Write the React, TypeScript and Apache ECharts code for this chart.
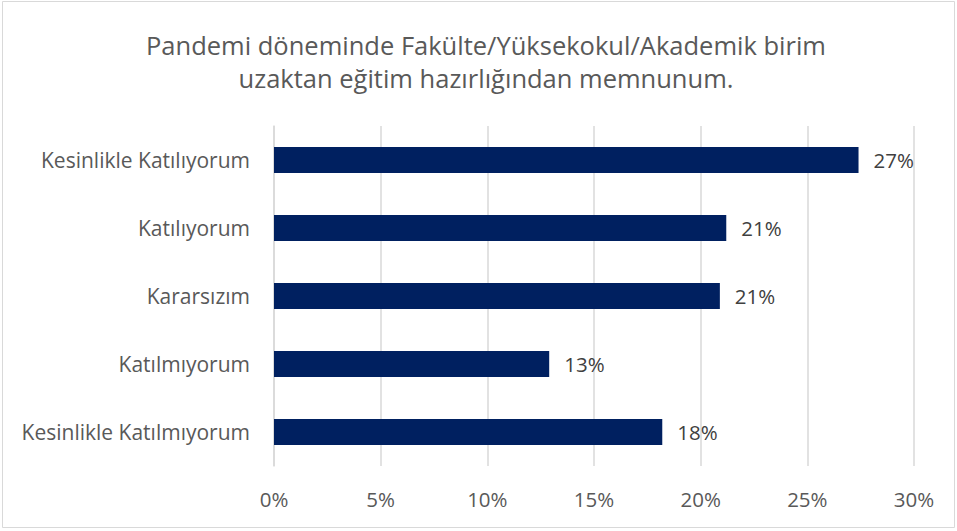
import React, { useEffect, useRef } from "react";
import * as echarts from "echarts";

const titleLines = [
  "Pandemi döneminde Fakülte/Yüksekokul/Akademik birim",
  "uzaktan eğitim hazırlığından memnunum.",
];
const categories = [
  "Kesinlikle Katılıyorum",
  "Katılıyorum",
  "Kararsızım",
  "Katılmıyorum",
  "Kesinlikle Katılmıyorum",
];
const values = [27.4, 21.2, 20.9, 12.9, 18.2];
const axisMin = 0;
const axisMax = 30;
const axisStep = 5;

const FONT = "Open Sans";

export default function App() {
  const ref = useRef<HTMLDivElement>(null);
  useEffect(() => {
    if (!ref.current) return;
    const chart = echarts.init(ref.current, undefined, { renderer: "svg" });
    chart.setOption({
      animation: false,
      backgroundColor: "#ffffff",
      graphic: [
        {
          type: "rect",
          shape: { x: 2.5, y: 1.5, width: 952, height: 526 },
          style: { fill: "none", stroke: "#d9d9d9", lineWidth: 1 },
          silent: true,
        },
        {
          type: "text",
          x: 486,
          y: 45,
          style: {
            text: titleLines[0],
            textAlign: "center",
            textVerticalAlign: "middle",
            fontFamily: FONT,
            fontSize: 25.5,
            fill: "#595959",
          },
        },
        {
          type: "text",
          x: 486,
          y: 78,
          style: {
            text: titleLines[1],
            textAlign: "center",
            textVerticalAlign: "middle",
            fontFamily: FONT,
            fontSize: 25.5,
            fill: "#595959",
          },
        },
      ],
      grid: { left: 274, right: 43, top: 126, bottom: 65, containLabel: false },
      xAxis: {
        type: "value",
        min: axisMin,
        max: axisMax,
        interval: axisStep,
        axisLine: { show: false },
        axisTick: { show: false },
        splitLine: { show: true, lineStyle: { color: "#d9d9d9", width: 1.5 } },
        axisLabel: {
          formatter: "{value}%",
          color: "#595959",
          fontFamily: FONT,
          fontSize: 20.5,
          margin: 22,
        },
      },
      yAxis: {
        type: "category",
        inverse: true,
        data: categories,
        axisLine: { show: true, lineStyle: { color: "#d9d9d9", width: 1.5 } },
        axisTick: { show: false },
        axisLabel: {
          color: "#595959",
          fontFamily: FONT,
          fontSize: 21,
          margin: 24,
        },
      },
      series: [
        {
          type: "bar",
          data: values,
          barWidth: 26,
          itemStyle: { color: "#002060" },
          label: {
            show: true,
            position: "right",
            distance: 15,
            formatter: (p: any) => Math.round(p.value) + "%",
            color: "#404040",
            fontFamily: FONT,
            fontSize: 20.5,
          },
        },
      ],
    });
    return () => chart.dispose();
  }, []);
  return (
    <div
      ref={ref}
      style={{ position: "fixed", left: 0, top: 0, width: 957, height: 531 }}
    />
  );
}
